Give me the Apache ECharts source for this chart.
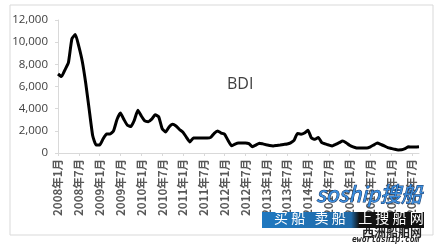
<!DOCTYPE html>
<html><head><meta charset="utf-8">
<script src="https://cdn.jsdelivr.net/npm/echarts@6/dist/echarts.min.js"></script>
<style>html,body{margin:0;padding:0;background:#fff}#c{width:448px;height:244px}</style>
</head><body><div id="c"></div>
<script>
// monthly BDI, 2008-01 .. 2016-09
const startYear = 2008;
const bdiValues = [
7130,6900,7500,8150,10300,10700,9620,8260,6270,3890,1550,720,
720,1280,1720,1710,2000,3020,3600,3020,2500,2390,2970,3850,
3340,2900,2830,3060,3450,3270,2200,1900,2350,2600,2440,2120,
1880,1420,1000,1350,1350,1350,1350,1350,1410,1780,1980,1800,
1700,1130,650,810,900,900,900,840,570,710,890,820,
740,670,640,680,720,770,810,920,1140,1750,1700,1800,
2050,1360,1230,1400,930,820,720,640,780,930,1080,930,
700,550,460,450,450,450,560,730,900,770,640,490,
410,330,280,290,400,560,540,540,560
];
const categories = bdiValues.map((v,i)=> (startYear+Math.floor(i/12))+'年'+(i%12+1)+'月');
const yTicks = [0,2000,4000,6000,8000,10000,12000];
const seriesName = 'BDI';

const chart = echarts.init(document.getElementById('c'), null, {renderer:'canvas'});
chart.setOption({
  backgroundColor:'#fff',
  animation:false,
  grid:{left:58,right:29,top:20,bottom:91},
  xAxis:{
    type:'category', data:categories, boundaryGap:false,
    axisLine:{lineStyle:{color:'#d9d9d9',width:1}},
    axisTick:{show:true,interval:5,length:3,lineStyle:{color:'#d9d9d9'}},
    axisLabel:{interval:5,rotate:90,margin:6,color:'#595959',fontSize:11.5,fontWeight:'bold',
      fontFamily:'"Noto Sans CJK SC", sans-serif'}
  },
  yAxis:{
    type:'value', min:yTicks[0], max:yTicks[yTicks.length-1], interval:2000,
    axisLine:{show:true,lineStyle:{color:'#d9d9d9'}},
    axisTick:{show:true,length:3,lineStyle:{color:'#d9d9d9'}},
    splitLine:{show:false},
    axisLabel:{color:'#404040',fontSize:11.5,margin:10,fontFamily:'"Open Sans", sans-serif',
      formatter:v=>v.toLocaleString('en-US')}
  },
  series:[{name:seriesName,type:'line',data:bdiValues,showSymbol:false,smooth:0.15,
    lineStyle:{color:'#000',width:3},z:3}],
  graphic:[
    {type:'rect',shape:{x:10,y:5,width:423,height:230},style:{fill:'none',stroke:'#d9d9d9',lineWidth:1},z:-1,silent:true},
    {type:'text',left:227,top:76,style:{text:seriesName,fontSize:16,fill:'#404040',fontFamily:'"Open Sans", sans-serif'}},
    {type:'text',x:316,y:184,style:{text:'soship搜船',fontSize:21,fontStyle:'italic',fill:'#3a8ee0',stroke:'#1a3a66',lineWidth:1,fontFamily:'"Noto Sans CJK SC", sans-serif'},z:10},
    {type:'rect',shape:{x:262,y:212,width:162,height:16},style:{fill:new echarts.graphic.LinearGradient(0,0,1,0,[{offset:0,color:'#1f78c0'},{offset:0.55,color:'#1f6aa8'},{offset:0.6,color:'#111'},{offset:1,color:'#111'}])},z:10},
    {type:'text',x:274,y:211,style:{text:'买 船   卖 船    上 搜 船 网',fontSize:14,fill:'#fff',fontFamily:'"Noto Sans CJK SC", sans-serif'},z:11},
    {type:'text',x:362,y:226,style:{text:'西洲船舶网',fontSize:12,fontWeight:'bold',fill:'#222',fontFamily:'"Noto Sans CJK SC", sans-serif'},z:9},
    {type:'text',x:352,y:236,style:{text:'eworldship.com',fontSize:8,fontWeight:'bold',fontStyle:'italic',fill:'#222',fontFamily:'"DejaVu Sans Mono", monospace'},z:9}
  ]
});
</script></body></html>
